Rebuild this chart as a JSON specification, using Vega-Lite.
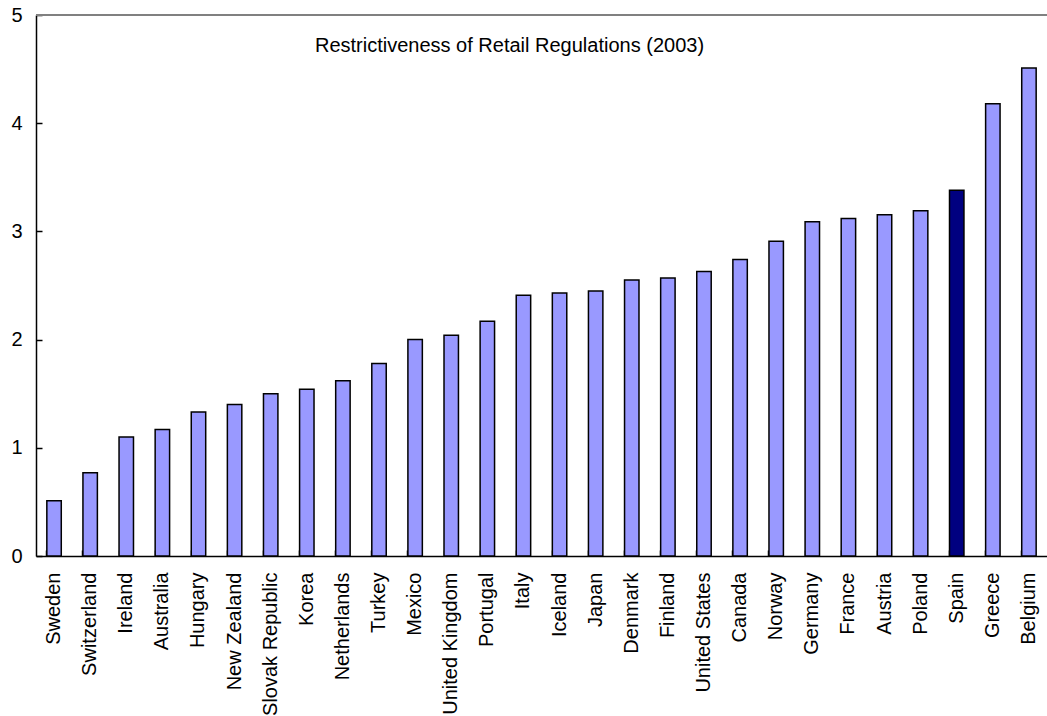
{
  "$schema": "https://vega.github.io/schema/vega-lite/v6.json",
  "width": 1011,
  "height": 541,
  "autosize": {"type": "none"},
  "padding": {"left": 36, "top": 15, "right": 0, "bottom": 160},
  "background": "white",
  "config": {
    "view": {"stroke": null},
    "font": "Liberation Sans",
    "axis": {"labelFont": "Liberation Sans", "labelColor": "black", "grid": false, "domainColor": "black", "tickColor": "black"}
  },
  "title": {
    "text": "Restrictiveness of Retail Regulations (2003)",
    "font": "Liberation Sans",
    "fontSize": 20,
    "fontWeight": "normal",
    "color": "black",
    "anchor": "middle",
    "dx": -32,
    "offset": -51
  },
  "data": {
    "values": [
      {"country": "Sweden", "value": 0.51, "highlight": "no"},
      {"country": "Switzerland", "value": 0.77, "highlight": "no"},
      {"country": "Ireland", "value": 1.10, "highlight": "no"},
      {"country": "Australia", "value": 1.17, "highlight": "no"},
      {"country": "Hungary", "value": 1.33, "highlight": "no"},
      {"country": "New Zealand", "value": 1.40, "highlight": "no"},
      {"country": "Slovak Republic", "value": 1.50, "highlight": "no"},
      {"country": "Korea", "value": 1.54, "highlight": "no"},
      {"country": "Netherlands", "value": 1.62, "highlight": "no"},
      {"country": "Turkey", "value": 1.78, "highlight": "no"},
      {"country": "Mexico", "value": 2.00, "highlight": "no"},
      {"country": "United Kingdom", "value": 2.04, "highlight": "no"},
      {"country": "Portugal", "value": 2.17, "highlight": "no"},
      {"country": "Italy", "value": 2.41, "highlight": "no"},
      {"country": "Iceland", "value": 2.43, "highlight": "no"},
      {"country": "Japan", "value": 2.45, "highlight": "no"},
      {"country": "Denmark", "value": 2.55, "highlight": "no"},
      {"country": "Finland", "value": 2.57, "highlight": "no"},
      {"country": "United States", "value": 2.63, "highlight": "no"},
      {"country": "Canada", "value": 2.74, "highlight": "no"},
      {"country": "Norway", "value": 2.91, "highlight": "no"},
      {"country": "Germany", "value": 3.09, "highlight": "no"},
      {"country": "France", "value": 3.12, "highlight": "no"},
      {"country": "Austria", "value": 3.155, "highlight": "no"},
      {"country": "Poland", "value": 3.19, "highlight": "no"},
      {"country": "Spain", "value": 3.38, "highlight": "yes"},
      {"country": "Greece", "value": 4.18, "highlight": "no"},
      {"country": "Belgium", "value": 4.51, "highlight": "no"}
    ]
  },
  "layer": [
    {
      "mark": {"type": "bar", "stroke": "black", "strokeWidth": 1.5},
      "encoding": {
        "x": {
          "field": "country", "type": "nominal", "sort": null,
          "scale": {"paddingInner": 0.6, "paddingOuter": 0.3},
          "axis": {
            "title": null, "labelAngle": -90, "labelAlign": "right", "labelBaseline": "middle",
            "labelFontSize": 20, "labelPadding": 22, "tickSize": -6, "bandPosition": 0,
            "domainWidth": 1.5, "tickWidth": 1.5
          }
        },
        "y": {
          "field": "value", "type": "quantitative",
          "scale": {"domain": [0, 5], "nice": false},
          "axis": {
            "title": null, "values": [0, 1, 2, 3, 4, 5], "format": "d", "labelFontSize": 20, "labelPadding": 20,
            "tickSize": -6, "domainWidth": 1.5, "tickWidth": 1.5
          }
        },
        "fill": {
          "field": "highlight", "type": "nominal",
          "scale": {"domain": ["no", "yes"], "range": ["#9999FF", "#000080"]},
          "legend": null
        }
      }
    },
    {
      "mark": {"type": "rule", "color": "#808080", "strokeWidth": 1.5},
      "encoding": {"y": {"datum": 5}}
    }
  ]
}
